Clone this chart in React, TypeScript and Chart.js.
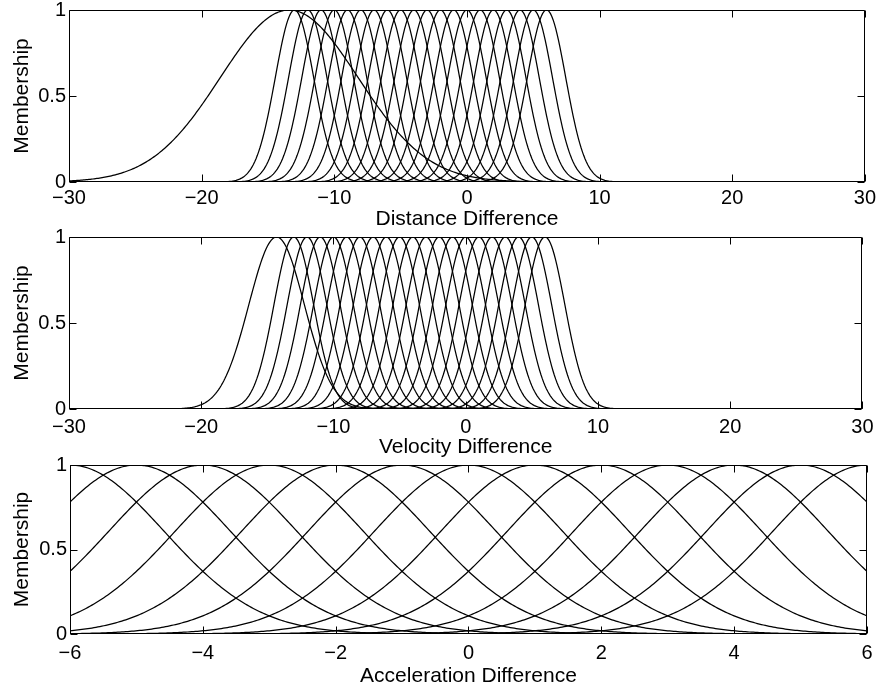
import React, { useEffect, useRef } from "react";
import { Chart, registerables } from "chart.js";

Chart.register(...registerables);

// ---- data ----
// Gaussian membership functions: centre and spread of each curve
const distanceCenters = [-13.4, -13, -12, -11, -10, -9, -8, -7, -6, -5, -4, -3, -2, -1, 0, 1, 2, 3, 4, 5, 6];
const distanceSigmas = [5.2, 1.45, 1.45, 1.45, 1.45, 1.45, 1.45, 1.45, 1.45, 1.45, 1.45, 1.45, 1.45, 1.45, 1.45, 1.45, 1.45, 1.45, 1.45, 1.45, 1.45];

const velocityCenters = [-14.3, -13, -12, -11, -10, -9, -8, -7, -6, -5, -4, -3, -2, -1, 0, 1, 2, 3, 4, 5, 6];
const velocitySigmas = [2.1, 1.5, 1.5, 1.5, 1.5, 1.5, 1.5, 1.5, 1.5, 1.5, 1.5, 1.5, 1.5, 1.5, 1.5, 1.5, 1.5, 1.5, 1.5, 1.5, 1.5];

const accelCenters = [-6, -5, -4, -3, -2, -1, 0, 1, 2, 3, 4, 5, 6];
const accelSigmas = [1.42, 1.42, 1.42, 1.42, 1.42, 1.42, 1.42, 1.42, 1.42, 1.42, 1.42, 1.42, 1.42];

const distanceTicks = [-30, -20, -10, 0, 10, 20, 30];
const velocityTicks = [-30, -20, -10, 0, 10, 20, 30];
const accelTicks = [-6, -4, -2, 0, 2, 4, 6];
const membershipTicks = [0, 0.5, 1];

const xTitles = ["Distance Difference", "Velocity Difference", "Acceleration Difference"];
const yTitle = "Membership";

// ---- layout ----
const W = 880;
const H = 691;
const OFF = 40; // canvas extends OFF px above and below the page
const CH = H + 2 * OFF;
const FONT = "'Liberation Sans', Arial, Helvetica, sans-serif";
const TICK_SIZE = 20;
const TITLE_SIZE = 21;

type Panel = {
  centers: number[];
  sigmas: number[];
  ticks: number[];
  min: number;
  max: number;
  step: number;
  title: string;
  left: number;
  right: number;
  top: number;
  bottom: number;
  tickGap: number;
  titleGap: number;
};

const panels: Panel[] = [
  { centers: distanceCenters, sigmas: distanceSigmas, ticks: distanceTicks, min: -30, max: 30, step: 0.1, title: xTitles[0], left: 69, right: 866, top: 10, bottom: 182, tickGap: 16, titleGap: 37 },
  { centers: velocityCenters, sigmas: velocitySigmas, ticks: velocityTicks, min: -30, max: 30, step: 0.1, title: xTitles[1], left: 69, right: 867, top: 237, bottom: 409, tickGap: 18.5, titleGap: 38.5 },
  { centers: accelCenters, sigmas: accelSigmas, ticks: accelTicks, min: -6, max: 6, step: 0.03, title: xTitles[2], left: 70, right: 868, top: 465, bottom: 634, tickGap: 19.5, titleGap: 42 },
];

function membershipCurve(c: number, s: number, min: number, max: number, step: number) {
  const pts: { x: number; y: number }[] = [];
  const n = Math.round((max - min) / step);
  for (let i = 0; i <= n; i++) {
    const x = min + i * step;
    pts.push({ x, y: Math.exp(-((x - c) * (x - c)) / (2 * s * s)) });
  }
  return pts;
}

const fmt = (v: number) => String(v).replace("-", "\u2212");

const frameTicks = {
  id: "frameTicks",
  afterDraw(chart: any) {
    const { ctx, chartArea: a, scales } = chart;
    const L = 7;
    ctx.save();
    ctx.strokeStyle = "#000";
    ctx.lineWidth = 1;
    ctx.beginPath();
    const l = Math.round(a.left) + 0.5;
    const r = Math.round(a.right) - 0.5;
    const t = Math.round(a.top) + 0.5;
    const b = Math.round(a.bottom) - 0.5;
    ctx.rect(l, t, r - l, b - t);
    for (const tk of scales.x.ticks) {
      const px = Math.round(scales.x.getPixelForValue(tk.value)) + 0.5;
      ctx.moveTo(px, b);
      ctx.lineTo(px, b - L);
      ctx.moveTo(px, t);
      ctx.lineTo(px, t + L);
    }
    for (const tk of scales.y.ticks) {
      const py = Math.round(scales.y.getPixelForValue(tk.value)) + 0.5;
      ctx.moveTo(l, py);
      ctx.lineTo(l + L, py);
      ctx.moveTo(r, py);
      ctx.lineTo(r - L, py);
    }
    ctx.stroke();
    ctx.restore();
  },
};

function makeConfig(p: Panel): any {
  const titleLH = TITLE_SIZE * 1.2;
  const tickLH = TICK_SIZE * 1.2;
  const xH = p.titleGap + titleLH / 2;
  const yW = p.left;
  const datasets = p.centers.map((c, i) => ({
    data: membershipCurve(c, p.sigmas[i], p.min, p.max, p.step),
    borderColor: "#000",
    borderWidth: 1.25,
    pointRadius: 0,
    fill: false,
    tension: 0,
  }));
  return {
    type: "line",
    data: { datasets },
    plugins: [frameTicks],
    options: {
      responsive: false,
      animation: false,
      events: [],
      layout: {
        padding: {
          left: 0,
          right: W - p.right,
          top: p.top + OFF,
          bottom: CH - (p.bottom + OFF) - xH,
        },
      },
      plugins: { legend: { display: false }, tooltip: { enabled: false } },
      scales: {
        x: {
          type: "linear",
          min: p.min,
          max: p.max,
          afterBuildTicks: (s: any) => {
            s.ticks = p.ticks.map((v) => ({ value: v }));
          },
          afterFit: (s: any) => {
            s.height = xH;
          },
          grid: { display: false, drawTicks: false },
          border: { display: false },
          ticks: {
            autoSkip: false,
            maxRotation: 0,
            padding: p.tickGap - tickLH / 2,
            color: "#000",
            font: { family: FONT, size: TICK_SIZE, lineHeight: 1.2 },
            callback: (v: number) => fmt(v),
          },
          title: {
            display: true,
            text: p.title,
            color: "#000",
            padding: 0,
            font: { family: FONT, size: TITLE_SIZE, lineHeight: 1.2 },
          },
        },
        y: {
          type: "linear",
          min: 0,
          max: 1,
          afterBuildTicks: (s: any) => {
            s.ticks = membershipTicks.map((v) => ({ value: v }));
          },
          afterFit: (s: any) => {
            s.width = yW;
          },
          grid: { display: false, drawTicks: false },
          border: { display: false },
          ticks: {
            padding: 3,
            color: "#000",
            font: { family: FONT, size: TICK_SIZE, lineHeight: 1.2 },
            callback: (v: number) => fmt(v),
          },
          title: {
            display: true,
            text: yTitle,
            color: "#000",
            padding: { top: 9.4, bottom: 0 },
            font: { family: FONT, size: TITLE_SIZE, lineHeight: 1.2 },
          },
        },
      },
    },
  };
}

function PanelChart({ panel }: { panel: Panel }) {
  const ref = useRef<HTMLCanvasElement | null>(null);
  useEffect(() => {
    if (!ref.current) return;
    const chart = new Chart(ref.current, makeConfig(panel));
    return () => chart.destroy();
  }, [panel]);
  return (
    <canvas
      ref={ref}
      width={W}
      height={CH}
      style={{ position: "absolute", left: 0, top: -OFF, width: W, height: CH }}
    />
  );
}

export default function App() {
  return (
    <div
      style={{
        position: "fixed",
        left: 0,
        top: 0,
        width: W,
        height: H,
        overflow: "hidden",
        background: "#fff",
      }}
    >
      {panels.map((p, i) => (
        <PanelChart key={i} panel={p} />
      ))}
    </div>
  );
}
